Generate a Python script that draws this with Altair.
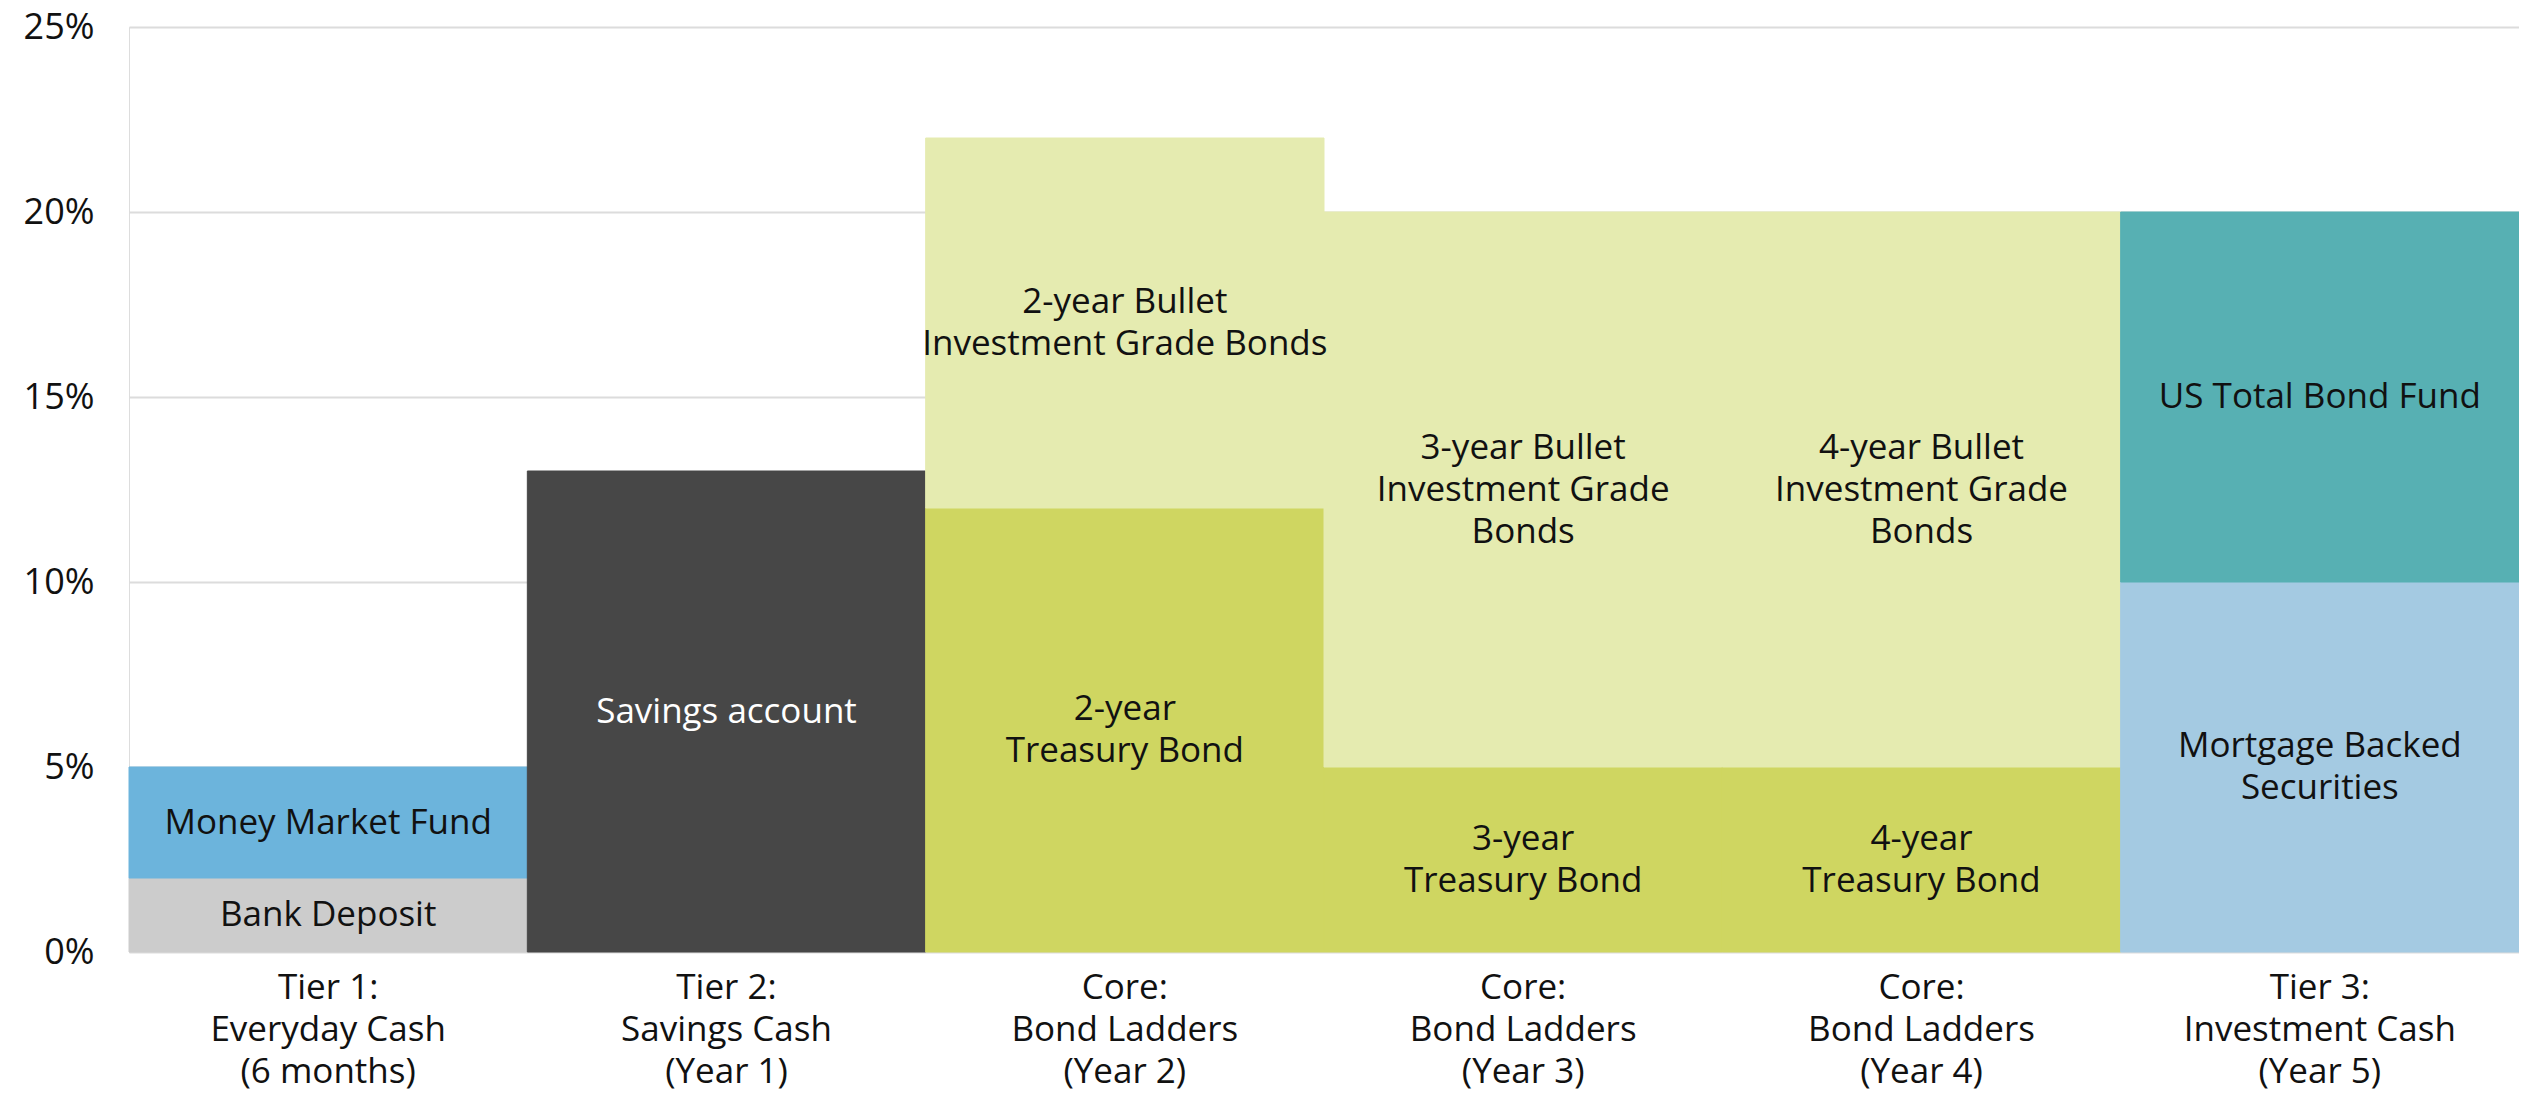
import altair as alt
import pandas as pd

# Column categories (x axis), with line breaks
categories = [
    "Tier 1:\nEveryday Cash\n(6 months)",
    "Tier 2:\nSavings Cash\n(Year 1)",
    "Core:\nBond Ladders\n(Year 2)",
    "Core:\nBond Ladders\n(Year 3)",
    "Core:\nBond Ladders\n(Year 4)",
    "Tier 3:\nInvestment Cash\n(Year 5)",
]

# Segments
seg_column = [0, 0, 1, 2, 2, 3, 3, 4, 4, 5, 5]
seg_label = [
    "Bank Deposit",
    "Money Market Fund",
    "Savings account",
    "2-year\nTreasury Bond",
    "2-year Bullet\nInvestment Grade Bonds",
    "3-year\nTreasury Bond",
    "3-year Bullet\nInvestment Grade\nBonds",
    "4-year\nTreasury Bond",
    "4-year Bullet\nInvestment Grade\nBonds",
    "Mortgage Backed\nSecurities",
    "US Total Bond Fund",
]
seg_kind = [
    "Bank Deposit", "Money Market", "Savings",
    "Treasury", "Bullet", "Treasury", "Bullet", "Treasury", "Bullet",
    "MBS", "Total Bond",
]
seg_start = [0, 2, 0, 0, 12, 0, 5, 0, 5, 0, 10]
seg_end = [2, 5, 13, 12, 22, 5, 20, 5, 20, 10, 20]

y_ticks = [0, 5, 10, 15, 20, 25]

kind_domain = ["Bank Deposit", "Money Market", "Savings", "Treasury", "Bullet", "MBS", "Total Bond"]
kind_colors = ["#cccccc", "#6cb4dc", "#474747", "#cfd661", "#e5ebb0", "#a4cae2", "#57b0b3"]

df = pd.DataFrame({
    "column": [categories[i] for i in seg_column],
    "label": seg_label,
    "kind": seg_kind,
    "start": seg_start,
    "end": seg_end,
})
df["mid"] = (df["start"] + df["end"]) / 2
df["nlines"] = df["label"].str.count("\n") + 1

FONT = "Open Sans"
LH = 42

x_enc = alt.X(
    "column:N",
    sort=categories,
    scale=alt.Scale(paddingInner=0, paddingOuter=0),
    axis=alt.Axis(
        title=None,
        labelAngle=0,
        labelExpr="split(datum.label, '\\n')",
        labelFontSize=35,
        labelFont=FONT,
        labelColor="#111111",
        labelLineHeight=42,
        labelPadding=18,
        labelLimit=0,
        ticks=False,
        domain=False,
        labelBaseline="top",
    ),
)

color_scale = alt.Scale(domain=kind_domain, range=kind_colors)

bars = alt.Chart(df).mark_bar(strokeWidth=1).encode(
    x=x_enc,
    y=alt.Y(
        "start:Q",
        scale=alt.Scale(domain=[0, 25], nice=False),
        axis=alt.Axis(
            title=None,
            values=y_ticks,
            labelExpr="datum.value + '%'",
            labelFontSize=36,
            labelFont=FONT,
            labelColor="#111111",
            labelPadding=35,
            ticks=False,
            domain=False,
            grid=True,
            gridColor="#dcdcdc",
            gridWidth=2,
        ),
    ),
    y2="end:Q",
    color=alt.Color("kind:N", scale=color_scale, legend=None),
    stroke=alt.Stroke("kind:N", scale=color_scale, legend=None),
)

text_layers = []
for n in [1, 2, 3]:
    t = alt.Chart(df).transform_filter(alt.datum.nlines == n).mark_text(
        lineBreak="\n", font=FONT, fontSize=35, lineHeight=LH,
        baseline="middle", align="center", dy=-(n - 1) * LH / 2,
    ).encode(
        x=alt.X("column:N", sort=categories),
        y=alt.Y("mid:Q"),
        text="label:N",
        color=alt.condition(alt.datum.kind == "Savings", alt.value("#ffffff"), alt.value("#111111")),
    )
    text_layers.append(t)

chart = (
    alt.layer(bars, *text_layers)
    .properties(
        width=2390,
        height=925,
        autosize=alt.AutoSizeParams(type="none"),
        padding={"left": 121, "top": 19, "right": 0, "bottom": 143},
    )
    .configure_view(stroke=None)
    .configure(background="white")
)

chart.save("out.html", embed_options={"renderer": "svg", "actions": False})
